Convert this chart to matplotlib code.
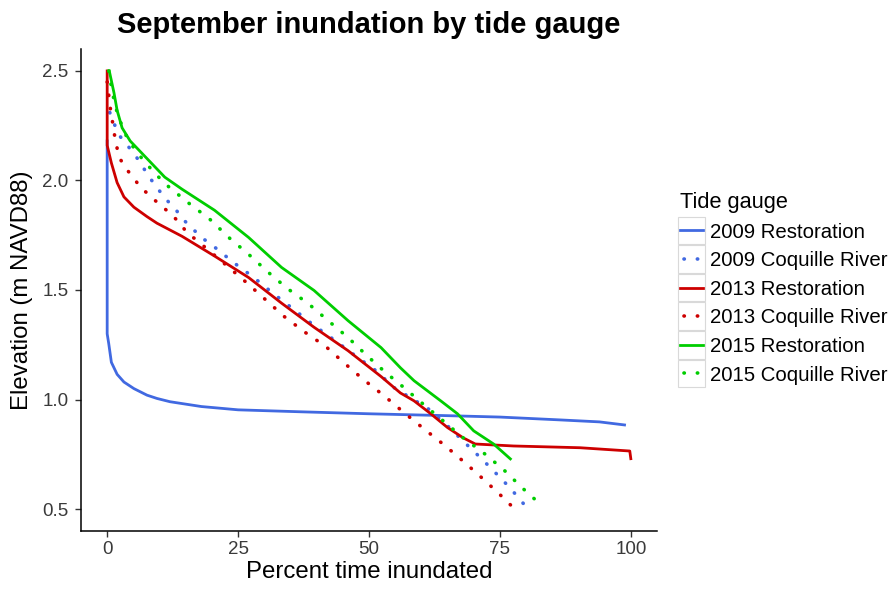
import matplotlib
matplotlib.use("Agg")
import matplotlib.pyplot as plt
from matplotlib.patches import Rectangle

plt.rcParams['font.family'] = ['Liberation Sans', 'DejaVu Sans']

# series (percent time inundated, elevation)
res09_x = [0, 0, 0.3, 0.8, 1.9, 3.2, 5.1, 7.6, 9.5, 12, 18, 25, 37, 50, 65.6, 75, 86.5, 94, 98.8]
res09_y = [2.18, 1.30, 1.255, 1.17, 1.115, 1.08, 1.05, 1.02, 1.005, 0.99, 0.968, 0.953,
           0.944, 0.935, 0.926, 0.92, 0.907, 0.898, 0.884]

coq09_x = [0.5, 1.3, 2.5, 4.2, 5.5, 8.2, 11, 13, 14.6, 18, 20.3, 24.1, 28, 31.7, 35.7, 39.5,
           43.3, 47.1, 51.3, 54.8, 61.2, 65, 68, 71.7, 75, 77, 80.2]
coq09_y = [2.31, 2.26, 2.2, 2.15, 2.11, 2.01, 1.92, 1.87, 1.82, 1.74, 1.70, 1.626, 1.557, 1.484,
           1.41, 1.338, 1.273, 1.205, 1.132, 1.054, 0.96, 0.88, 0.81, 0.725, 0.645, 0.595, 0.505]

res13_x = [0, 0, 0.4, 0.8, 1.9, 3.2, 5.1, 7.6, 9.5, 14.3, 20.5, 27, 33.3, 39.5, 46, 52.3, 56,
           58.6, 61.8, 65, 68, 70.3, 77.6, 90.3, 99.8, 100]
res13_y = [2.5, 2.16, 2.12, 2.08, 1.99, 1.925, 1.878, 1.835, 1.805, 1.745, 1.655, 1.557, 1.44,
           1.33, 1.223, 1.105, 1.03, 0.994, 0.935, 0.872, 0.825, 0.797, 0.788, 0.78, 0.765, 0.73]

coq13_x = [0, 0.6, 1.0, 1.3, 2.2, 3.4, 5.1, 6.3, 8.2, 10, 11.8, 13.7, 15.2, 17.1, 22.8, 26.6,
           30, 33.8, 37.6, 41.8, 45.2, 49, 52.9, 56.7, 60.5, 64.6, 68.4, 72, 75.5, 77.4]
coq13_y = [2.45, 2.33, 2.27, 2.22, 2.11, 2.06, 2.01, 1.97, 1.93, 1.89, 1.855, 1.81, 1.763, 1.727,
           1.612, 1.534, 1.461, 1.379, 1.31, 1.241, 1.168, 1.09, 1.017, 0.94, 0.866, 0.788,
           0.71, 0.633, 0.555, 0.51]

res15_x = [0.4, 1.3, 1.9, 2.85, 4.4, 6, 8, 11, 14.3, 20.5, 27, 33.3, 39.5, 46, 52.3, 56, 58.6,
           63.7, 66.9, 70, 73.8, 77]
res15_y = [2.5, 2.40, 2.32, 2.24, 2.18, 2.14, 2.09, 2.015, 1.96, 1.864, 1.74, 1.603, 1.498,
           1.36, 1.237, 1.145, 1.086, 0.994, 0.935, 0.857, 0.797, 0.729]

coq15_x = [0.3, 1.0, 2.0, 3.5, 4.75, 6.65, 9.2, 11.8, 15.6, 19.6, 23.4, 27, 30.8, 34.4, 38.4,
           42.2, 46, 49.4, 53, 56.7, 60.5, 64.3, 68, 71.9, 75.7, 79.3, 82.9]
coq15_y = [2.5, 2.40, 2.30, 2.21, 2.16, 2.10, 2.03, 1.97, 1.896, 1.823, 1.736, 1.663, 1.58,
           1.507, 1.438, 1.36, 1.283, 1.205, 1.127, 1.054, 0.976, 0.90, 0.825, 0.756, 0.68,
           0.596, 0.518]

labels = ['2009 Restoration', '2009 Coquille River', '2013 Restoration',
          '2013 Coquille River', '2015 Restoration', '2015 Coquille River']
colors = ['#4169E1', '#4169E1', '#CD0000', '#CD0000', '#00CD00', '#00CD00']
xs = [res09_x, coq09_x, res13_x, coq13_x, res15_x, coq15_x]
ys = [res09_y, coq09_y, res13_y, coq13_y, res15_y, coq15_y]

fig = plt.figure(figsize=(8.94, 5.89), dpi=100)
ax = fig.add_axes([0.0906, 0.0985, 0.6443, 0.8183])

for i in range(6):
    if i % 2 == 0:
        ax.plot(xs[i], ys[i], color=colors[i], lw=2.0, label=labels[i],
                solid_joinstyle='round')
    else:
        ax.plot(xs[i], ys[i], color=colors[i], lw=2.6, label=labels[i],
                linestyle=(0, (0.1, 3.6)), dash_capstyle='round')

ax.set_xlim(-5, 105)
ax.set_ylim(0.4, 2.6)
ax.set_xticks([0, 25, 50, 75, 100])
ax.set_yticks([0.5, 1.0, 1.5, 2.0, 2.5])
ax.set_yticklabels(['0.5', '1.0', '1.5', '2.0', '2.5'])
for s in ['top', 'right']:
    ax.spines[s].set_visible(False)
for s in ['left', 'bottom']:
    ax.spines[s].set_linewidth(1.1)
ax.tick_params(length=4, width=1, color='#333333', labelsize=13.5, labelcolor='#3a3a3a')
ax.tick_params(axis='y', pad=5)
ax.tick_params(axis='x', pad=3)
ax.set_xlabel('Percent time inundated', fontsize=17.3)
ax.set_ylabel('Elevation (m NAVD88)', fontsize=17.3)
ax.xaxis.set_label_coords(0.5, -0.062)
ax.yaxis.set_label_coords(-0.102, 0.5)
ax.yaxis.label.set_va('center')
fig.text(0.412, 0.958, 'September inundation by tide gauge', ha='center', va='center',
         fontsize=21, fontweight='bold')

leg = ax.legend(title='Tide gauge', loc='upper left', bbox_to_anchor=(680 / 894, 1 - 192 / 589),
                bbox_transform=fig.transFigure, frameon=False, fontsize=14.7,
                title_fontsize=15.7, handlelength=1.15, handletextpad=0.34,
                labelspacing=0.47, alignment='left', borderpad=0, borderaxespad=0)
for h in leg.legend_handles[1::2]:
    h.set_linestyle((2.6, (0.1, 3.6)))

# grey boxes around legend keys
fig.canvas.draw()
r = fig.canvas.get_renderer()
inv = fig.transFigure.inverted()
hs = leg.legend_handles
cys = [(h.get_window_extent(r).y0 + h.get_window_extent(r).y1) / 2 for h in hs]
step = abs(cys[0] - cys[1])
for h, cy in zip(hs, cys):
    bb = h.get_window_extent(r)
    x0, x1 = bb.x0 - 2, bb.x1 + 2
    (fx0, fy0) = inv.transform((x0, cy - step / 2 + 0.5))
    (fx1, fy1) = inv.transform((x1, cy + step / 2 - 0.5))
    fig.add_artist(Rectangle((fx0, fy0), fx1 - fx0, fy1 - fy0, transform=fig.transFigure,
                             fill=False, edgecolor='#d9d9d9', lw=0.8))

fig.savefig('out.png', dpi=100)
